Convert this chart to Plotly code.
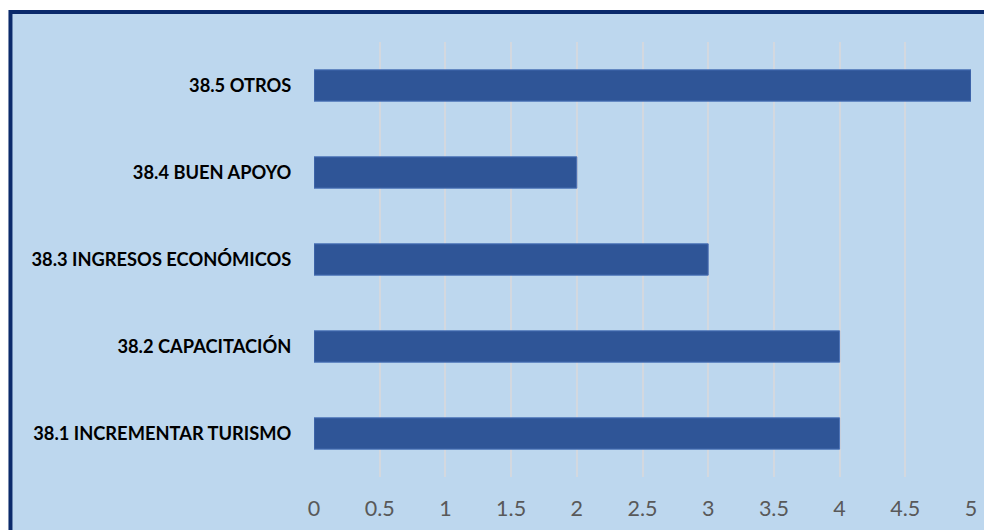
import plotly.graph_objects as go

categories = ["38.1 INCREMENTAR TURISMO", "38.2 CAPACITACIÓN", "38.3 INGRESOS ECONÓMICOS",
              "38.4 BUEN APOYO", "38.5 OTROS"]
values = [4, 4, 3, 2, 5]
tick_vals = [0, 0.5, 1, 1.5, 2, 2.5, 3, 3.5, 4, 4.5, 5]
tick_text = ["0", "0.5", "1", "1.5", "2", "2.5", "3", "3.5", "4", "4.5", "5"]

fig = go.Figure()
fig.add_trace(go.Bar(
    y=categories, x=values, orientation="h",
    marker=dict(color="#2F5597", line=dict(color="#4A72B8", width=1)),
    width=0.36,
))

fig.update_layout(
    width=992, height=530,
    margin=dict(l=306, r=29, t=34, b=61),
    paper_bgcolor="white",
    plot_bgcolor="rgba(0,0,0,0)",
    showlegend=False,
    font=dict(family="Lato, Open Sans, sans-serif"),
    shapes=[dict(type="rect", xref="paper", yref="paper",
                 x0=-0.462, x1=1.2, y0=-0.3, y1=1.069,
                 fillcolor="#BDD7EE", line=dict(color="#0B2A6B", width=4),
                 layer="below")],
    xaxis=dict(range=[0, 5.0], tickvals=tick_vals, ticktext=tick_text,
               showgrid=True, gridcolor="#D3D8DF", gridwidth=2,
               zeroline=False, showline=False,
               tickfont=dict(size=21.5, color="#595959", family="Lato, sans-serif"),
               ticks="outside", ticklen=12, tickcolor="rgba(0,0,0,0)"),
    yaxis=dict(showgrid=False, zeroline=False, showline=False,
               categoryorder="array", categoryarray=categories,
               tickfont=dict(size=18.3, color="#000000", family="Lato, sans-serif", weight="bold"),
               ticks="outside", ticklen=18, tickcolor="rgba(0,0,0,0)"),
)

fig.write_html("out.html")
